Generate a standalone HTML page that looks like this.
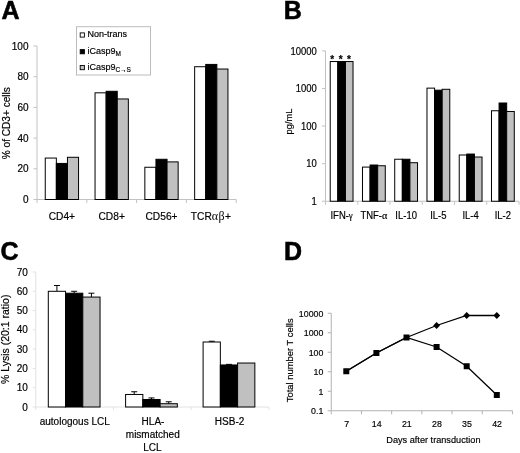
<!DOCTYPE html>
<html><head><meta charset="utf-8"><title>Figure</title>
<style>
html,body{margin:0;padding:0;background:#fff;}
text{stroke:#000;stroke-width:0.18px;}
svg{display:block;font-family:"Liberation Sans",sans-serif;fill:#000;filter:blur(0.35px);}
</style></head><body>
<svg width="520" height="453" viewBox="0 0 520 453">
<rect x="0" y="0" width="520" height="453" fill="#fff" stroke="none"/>
<text x="1.40" y="18.80" text-anchor="start" font-size="25" font-weight="bold" style="stroke-width:0.55px">A</text>
<text x="283.80" y="18.80" text-anchor="start" font-size="25" font-weight="bold" style="stroke-width:0.55px">B</text>
<text x="0.40" y="259.70" text-anchor="start" font-size="25" font-weight="bold" style="stroke-width:0.55px">C</text>
<text x="283.90" y="259.85" text-anchor="start" font-size="25" font-weight="bold" style="stroke-width:0.55px">D</text>
<line x1="37.00" y1="46.00" x2="37.00" y2="199.50" stroke="#c2c2c2" stroke-width="1"/>
<line x1="37.00" y1="199.50" x2="236.20" y2="199.50" stroke="#c2c2c2" stroke-width="1"/>
<line x1="33.50" y1="199.50" x2="37.00" y2="199.50" stroke="#c2c2c2" stroke-width="1"/>
<text x="28.50" y="203.10" text-anchor="end" font-size="10" font-weight="normal" >0</text>
<line x1="33.50" y1="168.80" x2="37.00" y2="168.80" stroke="#c2c2c2" stroke-width="1"/>
<text x="28.50" y="172.40" text-anchor="end" font-size="10" font-weight="normal" >20</text>
<line x1="33.50" y1="138.10" x2="37.00" y2="138.10" stroke="#c2c2c2" stroke-width="1"/>
<text x="28.50" y="141.70" text-anchor="end" font-size="10" font-weight="normal" >40</text>
<line x1="33.50" y1="107.40" x2="37.00" y2="107.40" stroke="#c2c2c2" stroke-width="1"/>
<text x="28.50" y="111.00" text-anchor="end" font-size="10" font-weight="normal" >60</text>
<line x1="33.50" y1="76.70" x2="37.00" y2="76.70" stroke="#c2c2c2" stroke-width="1"/>
<text x="28.50" y="80.30" text-anchor="end" font-size="10" font-weight="normal" >80</text>
<line x1="33.50" y1="46.00" x2="37.00" y2="46.00" stroke="#c2c2c2" stroke-width="1"/>
<text x="28.50" y="49.60" text-anchor="end" font-size="10" font-weight="normal" >100</text>
<line x1="37.00" y1="199.50" x2="37.00" y2="203.00" stroke="#c2c2c2" stroke-width="1"/>
<line x1="86.80" y1="199.50" x2="86.80" y2="203.00" stroke="#c2c2c2" stroke-width="1"/>
<line x1="136.60" y1="199.50" x2="136.60" y2="203.00" stroke="#c2c2c2" stroke-width="1"/>
<line x1="186.40" y1="199.50" x2="186.40" y2="203.00" stroke="#c2c2c2" stroke-width="1"/>
<line x1="236.20" y1="199.50" x2="236.20" y2="203.00" stroke="#c2c2c2" stroke-width="1"/>
<rect x="45.25" y="158.06" width="11.10" height="41.44" fill="#fff" stroke="#000" stroke-width="1"/>
<rect x="56.35" y="163.43" width="11.10" height="36.07" fill="#000" stroke="#000" stroke-width="1"/>
<rect x="67.45" y="157.29" width="11.10" height="42.21" fill="#c0c0c0" stroke="#000" stroke-width="1"/>
<text x="61.90" y="219.50" text-anchor="middle" font-size="10.2" font-weight="normal" >CD4+</text>
<rect x="95.05" y="92.82" width="11.10" height="106.68" fill="#fff" stroke="#000" stroke-width="1"/>
<rect x="106.15" y="91.28" width="11.10" height="108.22" fill="#000" stroke="#000" stroke-width="1"/>
<rect x="117.25" y="98.96" width="11.10" height="100.54" fill="#c0c0c0" stroke="#000" stroke-width="1"/>
<text x="111.70" y="219.50" text-anchor="middle" font-size="10.2" font-weight="normal" >CD8+</text>
<rect x="144.85" y="167.26" width="11.10" height="32.24" fill="#fff" stroke="#000" stroke-width="1"/>
<rect x="155.95" y="159.28" width="11.10" height="40.22" fill="#000" stroke="#000" stroke-width="1"/>
<rect x="167.05" y="161.89" width="11.10" height="37.61" fill="#c0c0c0" stroke="#000" stroke-width="1"/>
<text x="161.50" y="219.50" text-anchor="middle" font-size="10.2" font-weight="normal" >CD56+</text>
<rect x="194.65" y="66.72" width="11.10" height="132.78" fill="#fff" stroke="#000" stroke-width="1"/>
<rect x="205.75" y="64.42" width="11.10" height="135.08" fill="#000" stroke="#000" stroke-width="1"/>
<rect x="216.85" y="69.03" width="11.10" height="130.47" fill="#c0c0c0" stroke="#000" stroke-width="1"/>
<text x="210.90" y="219.50" text-anchor="middle" font-size="10.2" font-weight="normal" >TCR<tspan font-family="Liberation Serif" font-size="12" stroke-width="0" letter-spacing="0.4">αβ</tspan>+</text>
<text transform="translate(10.20,123.20) rotate(-90) scale(1,1)" text-anchor="middle" font-size="10.1">% of CD3+ cells</text>
<rect x="76.50" y="26.70" width="74.00" height="48.30" fill="#fff" stroke="#bcbcbc" stroke-width="1"/>
<rect x="80.20" y="32.90" width="4.20" height="4.20" fill="#fff" stroke="#000" stroke-width="0.9"/>
<rect x="80.20" y="49.60" width="4.20" height="4.20" fill="#000" stroke="#000" stroke-width="0.9"/>
<rect x="80.20" y="65.50" width="4.20" height="4.20" fill="#c0c0c0" stroke="#000" stroke-width="0.9"/>
<text x="87.40" y="37.00" text-anchor="start" font-size="9" font-weight="normal" >Non-trans</text>
<text x="87.40" y="53.60" text-anchor="start" font-size="9" font-weight="normal" >iCasp9<tspan font-size="6.5" dy="2">M</tspan></text>
<text x="87.40" y="69.70" text-anchor="start" font-size="9" font-weight="normal" >iCasp9<tspan font-size="6.5" dy="2.5">C→S</tspan></text>
<line x1="325.50" y1="50.85" x2="325.50" y2="201.25" stroke="#c2c2c2" stroke-width="1"/>
<line x1="325.50" y1="201.25" x2="519.00" y2="201.25" stroke="#c2c2c2" stroke-width="1"/>
<line x1="322.00" y1="201.25" x2="325.50" y2="201.25" stroke="#c2c2c2" stroke-width="1"/>
<text transform="translate(316.80,204.95) scale(0.93,1)" text-anchor="end" font-size="10.2" font-weight="normal" >1</text>
<line x1="322.00" y1="163.65" x2="325.50" y2="163.65" stroke="#c2c2c2" stroke-width="1"/>
<text transform="translate(316.80,167.35) scale(0.93,1)" text-anchor="end" font-size="10.2" font-weight="normal" >10</text>
<line x1="322.00" y1="126.05" x2="325.50" y2="126.05" stroke="#c2c2c2" stroke-width="1"/>
<text transform="translate(316.80,129.75) scale(0.93,1)" text-anchor="end" font-size="10.2" font-weight="normal" >100</text>
<line x1="322.00" y1="88.45" x2="325.50" y2="88.45" stroke="#c2c2c2" stroke-width="1"/>
<text transform="translate(316.80,92.15) scale(0.93,1)" text-anchor="end" font-size="10.2" font-weight="normal" >1000</text>
<line x1="322.00" y1="50.85" x2="325.50" y2="50.85" stroke="#c2c2c2" stroke-width="1"/>
<text transform="translate(316.80,54.55) scale(0.93,1)" text-anchor="end" font-size="10.2" font-weight="normal" >10000</text>
<line x1="325.50" y1="201.25" x2="325.50" y2="204.75" stroke="#c2c2c2" stroke-width="1"/>
<line x1="357.75" y1="201.25" x2="357.75" y2="204.75" stroke="#c2c2c2" stroke-width="1"/>
<line x1="390.00" y1="201.25" x2="390.00" y2="204.75" stroke="#c2c2c2" stroke-width="1"/>
<line x1="422.25" y1="201.25" x2="422.25" y2="204.75" stroke="#c2c2c2" stroke-width="1"/>
<line x1="454.50" y1="201.25" x2="454.50" y2="204.75" stroke="#c2c2c2" stroke-width="1"/>
<line x1="486.75" y1="201.25" x2="486.75" y2="204.75" stroke="#c2c2c2" stroke-width="1"/>
<line x1="519.00" y1="201.25" x2="519.00" y2="204.75" stroke="#c2c2c2" stroke-width="1"/>
<rect x="330.23" y="61.53" width="7.60" height="139.72" fill="#fff" stroke="#000" stroke-width="1"/>
<rect x="337.83" y="61.53" width="7.60" height="139.72" fill="#000" stroke="#000" stroke-width="1"/>
<rect x="345.43" y="61.53" width="7.60" height="139.72" fill="#c0c0c0" stroke="#000" stroke-width="1"/>
<text transform="translate(341.62,219.40) scale(0.93,1)" text-anchor="middle" font-size="10.2" font-weight="normal" >IFN-<tspan font-family="Liberation Serif" font-size="9.5">γ</tspan></text>
<rect x="362.48" y="167.09" width="7.60" height="34.16" fill="#fff" stroke="#000" stroke-width="1"/>
<rect x="370.08" y="165.01" width="7.60" height="36.24" fill="#000" stroke="#000" stroke-width="1"/>
<rect x="377.68" y="165.74" width="7.60" height="35.51" fill="#c0c0c0" stroke="#000" stroke-width="1"/>
<text transform="translate(373.88,219.40) scale(0.93,1)" text-anchor="middle" font-size="10.2" font-weight="normal" >TNF-<tspan font-family="Liberation Serif" font-size="11">α</tspan></text>
<rect x="394.73" y="159.24" width="7.60" height="42.01" fill="#fff" stroke="#000" stroke-width="1"/>
<rect x="402.33" y="159.24" width="7.60" height="42.01" fill="#000" stroke="#000" stroke-width="1"/>
<rect x="409.93" y="162.70" width="7.60" height="38.55" fill="#c0c0c0" stroke="#000" stroke-width="1"/>
<text transform="translate(406.12,219.40) scale(0.93,1)" text-anchor="middle" font-size="10.2" font-weight="normal" >IL-10</text>
<rect x="426.98" y="88.13" width="7.60" height="113.12" fill="#fff" stroke="#000" stroke-width="1"/>
<rect x="434.58" y="90.17" width="7.60" height="111.08" fill="#000" stroke="#000" stroke-width="1"/>
<rect x="442.18" y="89.29" width="7.60" height="111.96" fill="#c0c0c0" stroke="#000" stroke-width="1"/>
<text transform="translate(438.38,219.40) scale(0.93,1)" text-anchor="middle" font-size="10.2" font-weight="normal" >IL-5</text>
<rect x="459.23" y="154.99" width="7.60" height="46.26" fill="#fff" stroke="#000" stroke-width="1"/>
<rect x="466.83" y="154.05" width="7.60" height="47.20" fill="#000" stroke="#000" stroke-width="1"/>
<rect x="474.43" y="157.03" width="7.60" height="44.22" fill="#c0c0c0" stroke="#000" stroke-width="1"/>
<text transform="translate(470.62,219.40) scale(0.93,1)" text-anchor="middle" font-size="10.2" font-weight="normal" >IL-4</text>
<rect x="491.48" y="110.76" width="7.60" height="90.49" fill="#fff" stroke="#000" stroke-width="1"/>
<rect x="499.08" y="103.01" width="7.60" height="98.24" fill="#000" stroke="#000" stroke-width="1"/>
<rect x="506.68" y="111.48" width="7.60" height="89.77" fill="#c0c0c0" stroke="#000" stroke-width="1"/>
<text transform="translate(502.88,219.40) scale(0.93,1)" text-anchor="middle" font-size="10.2" font-weight="normal" >IL-2</text>
<text x="332.20" y="62.60" text-anchor="middle" font-size="10" font-weight="bold" >*</text>
<text x="340.60" y="62.60" text-anchor="middle" font-size="10" font-weight="bold" >*</text>
<text x="348.90" y="62.60" text-anchor="middle" font-size="10" font-weight="bold" >*</text>
<text transform="translate(292.30,121.50) rotate(-90) scale(1,1)" text-anchor="middle" font-size="9.3">pg/mL</text>
<line x1="35.75" y1="272.00" x2="35.75" y2="407.00" stroke="#e2e2e2" stroke-width="1"/>
<line x1="35.75" y1="407.00" x2="268.85" y2="407.00" stroke="#e2e2e2" stroke-width="1"/>
<line x1="32.75" y1="407.00" x2="35.75" y2="407.00" stroke="#e2e2e2" stroke-width="1"/>
<text x="27.90" y="410.60" text-anchor="end" font-size="10" font-weight="normal" >0</text>
<line x1="32.75" y1="387.71" x2="35.75" y2="387.71" stroke="#e2e2e2" stroke-width="1"/>
<text x="27.90" y="391.31" text-anchor="end" font-size="10" font-weight="normal" >10</text>
<line x1="32.75" y1="368.43" x2="35.75" y2="368.43" stroke="#e2e2e2" stroke-width="1"/>
<text x="27.90" y="372.03" text-anchor="end" font-size="10" font-weight="normal" >20</text>
<line x1="32.75" y1="349.14" x2="35.75" y2="349.14" stroke="#e2e2e2" stroke-width="1"/>
<text x="27.90" y="352.74" text-anchor="end" font-size="10" font-weight="normal" >30</text>
<line x1="32.75" y1="329.86" x2="35.75" y2="329.86" stroke="#e2e2e2" stroke-width="1"/>
<text x="27.90" y="333.46" text-anchor="end" font-size="10" font-weight="normal" >40</text>
<line x1="32.75" y1="310.57" x2="35.75" y2="310.57" stroke="#e2e2e2" stroke-width="1"/>
<text x="27.90" y="314.17" text-anchor="end" font-size="10" font-weight="normal" >50</text>
<line x1="32.75" y1="291.29" x2="35.75" y2="291.29" stroke="#e2e2e2" stroke-width="1"/>
<text x="27.90" y="294.89" text-anchor="end" font-size="10" font-weight="normal" >60</text>
<line x1="32.75" y1="272.00" x2="35.75" y2="272.00" stroke="#e2e2e2" stroke-width="1"/>
<text x="27.90" y="275.60" text-anchor="end" font-size="10" font-weight="normal" >70</text>
<line x1="35.75" y1="407.00" x2="35.75" y2="410.00" stroke="#e2e2e2" stroke-width="1"/>
<line x1="113.45" y1="407.00" x2="113.45" y2="410.00" stroke="#e2e2e2" stroke-width="1"/>
<line x1="191.15" y1="407.00" x2="191.15" y2="410.00" stroke="#e2e2e2" stroke-width="1"/>
<line x1="268.85" y1="407.00" x2="268.85" y2="410.00" stroke="#e2e2e2" stroke-width="1"/>
<line x1="56.92" y1="285.50" x2="56.92" y2="291.29" stroke="#000" stroke-width="1"/>
<line x1="53.92" y1="285.50" x2="59.92" y2="285.50" stroke="#000" stroke-width="1"/>
<rect x="48.30" y="291.29" width="17.25" height="115.71" fill="#fff" stroke="#000" stroke-width="1"/>
<line x1="74.17" y1="291.29" x2="74.17" y2="293.21" stroke="#000" stroke-width="1"/>
<line x1="71.17" y1="291.29" x2="77.17" y2="291.29" stroke="#000" stroke-width="1"/>
<rect x="65.55" y="293.21" width="17.25" height="113.79" fill="#000" stroke="#000" stroke-width="1"/>
<line x1="91.42" y1="293.21" x2="91.42" y2="297.07" stroke="#000" stroke-width="1"/>
<line x1="88.42" y1="293.21" x2="94.42" y2="293.21" stroke="#000" stroke-width="1"/>
<rect x="82.80" y="297.07" width="17.25" height="109.93" fill="#c0c0c0" stroke="#000" stroke-width="1"/>
<line x1="134.22" y1="391.76" x2="134.22" y2="394.46" stroke="#000" stroke-width="1"/>
<line x1="131.22" y1="391.76" x2="137.22" y2="391.76" stroke="#000" stroke-width="1"/>
<rect x="125.60" y="394.46" width="17.25" height="12.54" fill="#fff" stroke="#000" stroke-width="1"/>
<line x1="151.47" y1="397.94" x2="151.47" y2="399.48" stroke="#000" stroke-width="1"/>
<line x1="148.47" y1="397.94" x2="154.47" y2="397.94" stroke="#000" stroke-width="1"/>
<rect x="142.85" y="399.48" width="17.25" height="7.52" fill="#000" stroke="#000" stroke-width="1"/>
<line x1="168.72" y1="401.79" x2="168.72" y2="403.72" stroke="#000" stroke-width="1"/>
<line x1="165.72" y1="401.79" x2="171.72" y2="401.79" stroke="#000" stroke-width="1"/>
<rect x="160.10" y="403.72" width="17.25" height="3.28" fill="#c0c0c0" stroke="#000" stroke-width="1"/>
<line x1="211.72" y1="341.24" x2="211.72" y2="342.01" stroke="#000" stroke-width="1"/>
<line x1="208.72" y1="341.24" x2="214.72" y2="341.24" stroke="#000" stroke-width="1"/>
<rect x="203.10" y="342.01" width="17.25" height="64.99" fill="#fff" stroke="#000" stroke-width="1"/>
<line x1="228.97" y1="364.38" x2="228.97" y2="364.96" stroke="#000" stroke-width="1"/>
<line x1="225.97" y1="364.38" x2="231.97" y2="364.38" stroke="#000" stroke-width="1"/>
<rect x="220.35" y="364.96" width="17.25" height="42.04" fill="#000" stroke="#000" stroke-width="1"/>
<rect x="237.60" y="363.03" width="17.25" height="43.97" fill="#c0c0c0" stroke="#000" stroke-width="1"/>
<text x="74.75" y="425.00" text-anchor="middle" font-size="10" font-weight="normal" >autologous LCL</text>
<text x="153.00" y="425.00" text-anchor="middle" font-size="10" font-weight="normal" >HLA-</text>
<text x="152.75" y="438.00" text-anchor="middle" font-size="10" font-weight="normal" >mismatched</text>
<text x="152.50" y="451.30" text-anchor="middle" font-size="10" font-weight="normal" >LCL</text>
<text x="229.60" y="425.00" text-anchor="middle" font-size="10" font-weight="normal" >HSB-2</text>
<text transform="translate(8.60,339.30) rotate(-90) scale(1,1)" text-anchor="middle" font-size="10.5">% Lysis (20:1 ratio)</text>
<line x1="331.25" y1="313.25" x2="331.25" y2="410.75" stroke="#b2b2b2" stroke-width="1"/>
<line x1="331.25" y1="410.75" x2="512.45" y2="410.75" stroke="#b2b2b2" stroke-width="1"/>
<line x1="327.75" y1="313.25" x2="331.25" y2="313.25" stroke="#b2b2b2" stroke-width="1"/>
<text transform="translate(323.40,316.75) scale(0.92,1)" text-anchor="end" font-size="9.6" font-weight="normal" >10000</text>
<line x1="327.75" y1="332.75" x2="331.25" y2="332.75" stroke="#b2b2b2" stroke-width="1"/>
<text transform="translate(323.40,336.25) scale(0.92,1)" text-anchor="end" font-size="9.6" font-weight="normal" >1000</text>
<line x1="327.75" y1="352.25" x2="331.25" y2="352.25" stroke="#b2b2b2" stroke-width="1"/>
<text transform="translate(323.40,355.75) scale(0.92,1)" text-anchor="end" font-size="9.6" font-weight="normal" >100</text>
<line x1="327.75" y1="371.75" x2="331.25" y2="371.75" stroke="#b2b2b2" stroke-width="1"/>
<text transform="translate(323.40,375.25) scale(0.92,1)" text-anchor="end" font-size="9.6" font-weight="normal" >10</text>
<line x1="327.75" y1="391.25" x2="331.25" y2="391.25" stroke="#b2b2b2" stroke-width="1"/>
<text transform="translate(323.40,394.75) scale(0.92,1)" text-anchor="end" font-size="9.6" font-weight="normal" >1</text>
<line x1="327.75" y1="410.75" x2="331.25" y2="410.75" stroke="#b2b2b2" stroke-width="1"/>
<text transform="translate(323.40,414.25) scale(0.92,1)" text-anchor="end" font-size="9.6" font-weight="normal" >0.1</text>
<line x1="331.25" y1="410.75" x2="331.25" y2="414.25" stroke="#b2b2b2" stroke-width="1"/>
<line x1="361.45" y1="410.75" x2="361.45" y2="414.25" stroke="#b2b2b2" stroke-width="1"/>
<line x1="391.65" y1="410.75" x2="391.65" y2="414.25" stroke="#b2b2b2" stroke-width="1"/>
<line x1="421.85" y1="410.75" x2="421.85" y2="414.25" stroke="#b2b2b2" stroke-width="1"/>
<line x1="452.05" y1="410.75" x2="452.05" y2="414.25" stroke="#b2b2b2" stroke-width="1"/>
<line x1="482.25" y1="410.75" x2="482.25" y2="414.25" stroke="#b2b2b2" stroke-width="1"/>
<line x1="512.45" y1="410.75" x2="512.45" y2="414.25" stroke="#b2b2b2" stroke-width="1"/>
<text transform="translate(346.60,426.90) scale(0.92,1)" text-anchor="middle" font-size="9.6" font-weight="normal" >7</text>
<text transform="translate(376.70,426.90) scale(0.92,1)" text-anchor="middle" font-size="9.6" font-weight="normal" >14</text>
<text transform="translate(406.80,426.90) scale(0.92,1)" text-anchor="middle" font-size="9.6" font-weight="normal" >21</text>
<text transform="translate(436.90,426.90) scale(0.92,1)" text-anchor="middle" font-size="9.6" font-weight="normal" >28</text>
<text transform="translate(467.00,426.90) scale(0.92,1)" text-anchor="middle" font-size="9.6" font-weight="normal" >35</text>
<text transform="translate(497.10,426.90) scale(0.92,1)" text-anchor="middle" font-size="9.6" font-weight="normal" >42</text>
<text transform="translate(433.40,442.50) scale(0.955,1)" text-anchor="middle" font-size="9.6" font-weight="normal" >Days after transduction</text>
<text transform="translate(293.30,360.30) rotate(-90) scale(0.97,1)" text-anchor="middle" font-size="9.7">Total number T cells</text>
<polyline fill="none" stroke="#000" stroke-width="1.3" points="346.30,371.25 376.40,353.00 406.50,337.50 436.60,325.50 466.70,315.50 496.80,315.50"/>
<polyline fill="none" stroke="#000" stroke-width="1.3" points="346.30,371.25 376.40,353.00 406.50,337.50 436.60,347.00 466.70,366.25 496.80,395.00"/>
<polygon points="433.20000000000005,325.5 436.6,322.1 440.0,325.5 436.6,328.9" fill="#000"/>
<polygon points="463.30000000000007,315.5 466.70000000000005,312.1 470.1,315.5 466.70000000000005,318.9" fill="#000"/>
<polygon points="493.40000000000003,315.5 496.8,312.1 500.2,315.5 496.8,318.9" fill="#000"/>
<rect x="343.30" y="368.25" width="6" height="6" fill="#000"/>
<rect x="373.40" y="350.00" width="6" height="6" fill="#000"/>
<rect x="403.50" y="334.50" width="6" height="6" fill="#000"/>
<rect x="433.60" y="344.00" width="6" height="6" fill="#000"/>
<rect x="463.70" y="363.25" width="6" height="6" fill="#000"/>
<rect x="493.80" y="392.00" width="6" height="6" fill="#000"/>
</svg>
</body></html>
